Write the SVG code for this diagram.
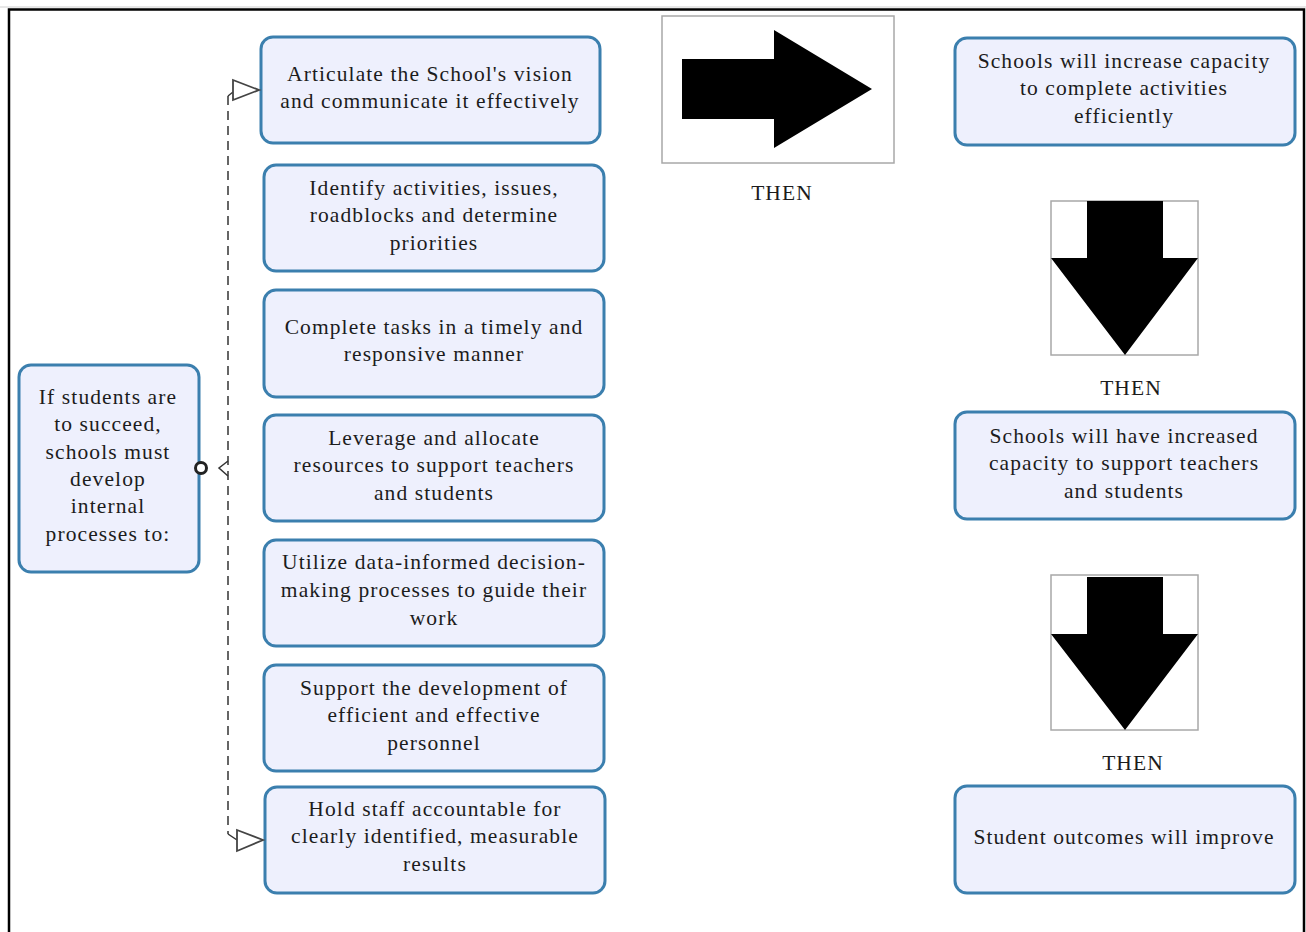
<svg xmlns="http://www.w3.org/2000/svg" width="1306" height="932" viewBox="0 0 1306 932">
  <style>
    .box { fill: #eef0fd; stroke: #3b7fae; stroke-width: 3; }
    .t { font-family: "Liberation Serif", "Times New Roman", serif; font-size: 21.5px; letter-spacing: 1.1px; fill: #1c1c1c; text-anchor: middle; }
    .frame { fill: #ffffff; stroke: #a8a8a8; stroke-width: 1.5; }
    .dash { fill: none; stroke: #333; stroke-width: 1.5; stroke-dasharray: 9 6; }
    .head { fill: #ffffff; stroke: #444; stroke-width: 1.8; }
  </style>
  <rect width="1306" height="932" fill="#ffffff"/>
  <!-- page border -->
  <path d="M9 934 V9.5 H1304 V934" fill="none" stroke="#000" stroke-width="2.5"/>
  <line x1="0" y1="7" x2="1306" y2="7" stroke="#cfcfcf" stroke-width="1"/>

  <g id="n-left">
    <rect class="box" x="19" y="365" width="180" height="207" rx="12"/>
    <text class="t" x="108" y="404">If students are</text>
    <text class="t" x="108" y="431">to succeed,</text>
    <text class="t" x="108" y="459">schools must</text>
    <text class="t" x="108" y="486">develop</text>
    <text class="t" x="108" y="513">internal</text>
    <text class="t" x="108" y="541">processes to:</text>
  </g>

  <g id="n-vision">
    <rect class="box" x="261" y="37" width="339" height="106" rx="12"/>
    <text class="t" x="430" y="81">Articulate the School's vision</text>
    <text class="t" x="430" y="108">and communicate it effectively</text>
  </g>
  <g id="n-priorities">
    <rect class="box" x="264" y="165" width="340" height="106" rx="12"/>
    <text class="t" x="434" y="195">Identify activities, issues,</text>
    <text class="t" x="434" y="222">roadblocks and determine</text>
    <text class="t" x="434" y="250">priorities</text>
  </g>
  <g id="n-tasks">
    <rect class="box" x="264" y="290" width="340" height="107" rx="12"/>
    <text class="t" x="434" y="334">Complete tasks in a timely and</text>
    <text class="t" x="434" y="361">responsive manner</text>
  </g>
  <g id="n-resources">
    <rect class="box" x="264" y="415" width="340" height="106" rx="12"/>
    <text class="t" x="434" y="445">Leverage and allocate</text>
    <text class="t" x="434" y="472">resources to support teachers</text>
    <text class="t" x="434" y="500">and students</text>
  </g>
  <g id="n-data">
    <rect class="box" x="264" y="540" width="340" height="106" rx="12"/>
    <text class="t" x="434" y="569">Utilize data-informed decision-</text>
    <text class="t" x="434" y="597">making processes to guide their</text>
    <text class="t" x="434" y="625">work</text>
  </g>
  <g id="n-personnel">
    <rect class="box" x="264" y="665" width="340" height="106" rx="12"/>
    <text class="t" x="434" y="695">Support the development of</text>
    <text class="t" x="434" y="722">efficient and effective</text>
    <text class="t" x="434" y="750">personnel</text>
  </g>
  <g id="n-accountable">
    <rect class="box" x="265" y="787" width="340" height="106" rx="12"/>
    <text class="t" x="435" y="816">Hold staff accountable for</text>
    <text class="t" x="435" y="843">clearly identified, measurable</text>
    <text class="t" x="435" y="871">results</text>
  </g>

  <!-- THEN arrows -->
  <g id="then-right">
    <rect class="frame" x="662" y="16" width="232" height="147"/>
    <polygon points="682,59 774,59 774,30 872,89 774,148 774,119 682,119" fill="#000"/>
    <text class="t" x="782" y="200">THEN</text>
  </g>
  <g id="then-down-1">
    <rect class="frame" x="1051" y="201" width="147" height="154"/>
    <polygon points="1087,201 1163,201 1163,258 1198,258 1125,355 1051,258 1087,258" fill="#000"/>
    <text class="t" x="1131" y="395">THEN</text>
  </g>
  <g id="then-down-2">
    <rect class="frame" x="1051" y="575" width="147" height="155"/>
    <polygon points="1087,577 1163,577 1163,634 1198,634 1125,730 1051,634 1087,634" fill="#000"/>
    <text class="t" x="1133" y="770">THEN</text>
  </g>

  <g id="n-capacity">
    <rect class="box" x="955" y="38" width="340" height="107" rx="12"/>
    <text class="t" x="1124" y="68">Schools will increase capacity</text>
    <text class="t" x="1124" y="95">to complete activities</text>
    <text class="t" x="1124" y="123">efficiently</text>
  </g>
  <g id="n-support">
    <rect class="box" x="955" y="412" width="340" height="107" rx="12"/>
    <text class="t" x="1124" y="443">Schools will have increased</text>
    <text class="t" x="1124" y="470">capacity to support teachers</text>
    <text class="t" x="1124" y="498">and students</text>
  </g>
  <g id="n-outcomes">
    <rect class="box" x="955" y="786" width="340" height="107" rx="12"/>
    <text class="t" x="1124" y="844">Student outcomes will improve</text>
  </g>

  <!-- connectors, drawn over the node borders -->
  <g id="connectors">
    <line class="dash" x1="228" y1="96" x2="228" y2="834"/>
    <path d="M228 96 L233 92" fill="none" stroke="#333" stroke-width="1.5"/>
    <path d="M228 834 L237 840" fill="none" stroke="#333" stroke-width="1.5"/>
    <polygon class="head" points="233,80 259,90 233,100"/>
    <polygon class="head" points="237,830 263,840 237,851"/>
    <path d="M228 461 L219 468 L228 476" fill="none" stroke="#333" stroke-width="1.5"/>
    <circle cx="201" cy="468" r="5.5" fill="#ffffff" stroke="#222" stroke-width="3"/>
  </g>
</svg>
